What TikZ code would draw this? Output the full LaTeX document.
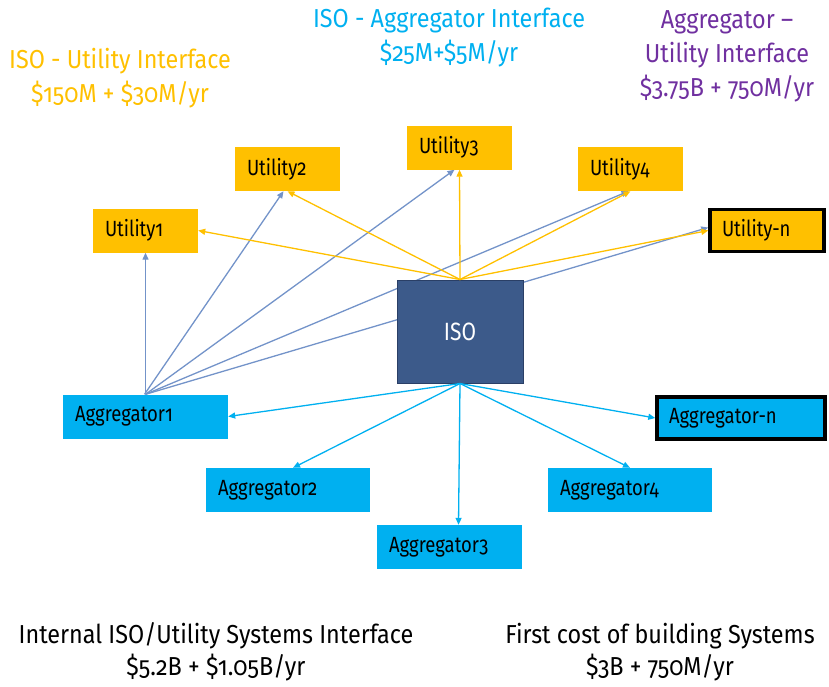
\documentclass[tikz,border=0pt]{standalone}
\usepackage{fontspec}
\setmainfont{Fira Sans}[Numbers=OldStyle]
\newfontfamily\headfont{Fira Sans}[Numbers=OldStyle, FakeStretch=0.9]
\newfontfamily\boxfont{Fira Sans}[Numbers=OldStyle, FakeStretch=0.84]
\usetikzlibrary{arrows.meta,backgrounds}

\definecolor{uorange}{HTML}{FFC000}
\definecolor{acyan}{HTML}{00B0F0}
\definecolor{ipurple}{HTML}{7030A0}
\definecolor{isofill}{HTML}{3C5A8A}
\definecolor{isoedge}{HTML}{2A3F66}
\definecolor{linkblue}{HTML}{7393C9}

\tikzset{
  box/.style={inner xsep=12pt, inner ysep=0pt, align=left,
    font=\boxfont\fontsize{22}{26}\selectfont, text=black},
  util/.style={box, fill=uorange, minimum height=44pt},
  agg/.style={box, fill=acyan, minimum height=44pt},
  lastbox/.style={draw=black, line width=3.5pt, minimum height=42pt},
  head/.style={font=\headfont\fontsize{26}{34}\selectfont, align=center},
  foot/.style={font=\headfont\fontsize{26}{32}\selectfont, align=center, text=black},
  tip/.style={-{Triangle[length=7pt,width=6pt]}, line width=1.3pt},
  uarrow/.style={tip, draw=uorange},
  aarrow/.style={tip, draw=acyan},
  larrow/.style={tip, draw=linkblue},
}

\begin{document}
\begin{tikzpicture}[x=1pt,y=-1pt]
\useasboundingbox (0,0) rectangle (829,686);

% headings
\node[head, text=uorange] (hU) at (120,78.5) {ISO - Utility Interface\\\$150M + \$30M/yr};
\node[head, text=acyan] (hA) at (449,37.5) {ISO - Aggregator Interface\\\$25M+\$5M/yr};
\node[head, text=ipurple] (hP) at (727,56) {Aggregator –\\Utility Interface\\\$3.75B + 750M/yr};

% utilities
\node[util, text width=81pt] (U1) at (145.5,230.5) {Utility1};
\node[util, text width=81pt] (U2) at (287.5,169) {Utility2};
\node[util, text width=81pt] (U3) at (459.5,147.5) {Utility3};
\node[util, text width=81pt] (U4) at (630.5,169) {Utility4};
\node[util, lastbox, text width=90pt] (Un) at (767,230.5) {Utility-n};

% ISO
\node[draw=isoedge, line width=1pt, fill=isofill, minimum width=126pt, minimum height=103pt,
      text=white, font=\boxfont\fontsize{25}{29}\selectfont] (ISO) at (460,331.5) {ISO};

% aggregators
\node[agg, text width=141pt] (A1) at (145.5,416.5) {Aggregator1};
\node[agg, text width=140pt] (A2) at (288,490) {Aggregator2};
\node[agg, text width=121pt] (A3) at (449.5,547) {Aggregator3};
\node[agg, text width=140pt] (A4) at (630,490) {Aggregator4};
\node[agg, lastbox, text width=144pt] (An) at (741,418) {Aggregator-n};

% aggregator-utility links pass behind the ISO box
\begin{scope}[on background layer]
  \draw[larrow] (A1.north) -- (U1.south);
  \draw[larrow] ([xshift=-1pt]A1.north) -- ([xshift=-4pt]U2.south);
  \draw[larrow] (A1.north) -- ([xshift=-5pt]U3.south);
  \draw[larrow] (A1.north) -- ([xshift=-2pt]U4.south);
  \draw[larrow] (A1.north) -- ([yshift=3pt]Un.west);
\end{scope}

% ISO-utility links
\draw[uarrow] (ISO.north) -- (U1.east);
\draw[uarrow] (ISO.north) -- (U2.south);
\draw[uarrow] (ISO.north) -- (U3.south);
\draw[uarrow] (ISO.north) -- (U4.south);
\draw[uarrow] (ISO.north) -- (Un.west);

% ISO-aggregator links
\draw[aarrow] (ISO.south) -- (A1.east);
\draw[aarrow] (ISO.south) -- ([xshift=5pt]A2.north);
\draw[aarrow] (ISO.south) -- ([xshift=9pt]A3.north);
\draw[aarrow] (ISO.south) -- (A4.north);
\draw[aarrow] (ISO.south) -- (An.west);

% totals
\node[foot] (fL) at (216,652) {Internal ISO/Utility Systems Interface\\\$5.2B + \$1.05B/yr};
\node[foot] (fR) at (660,652) {First cost of building Systems\\\$3B + 750M/yr};
\end{tikzpicture}
\end{document}
